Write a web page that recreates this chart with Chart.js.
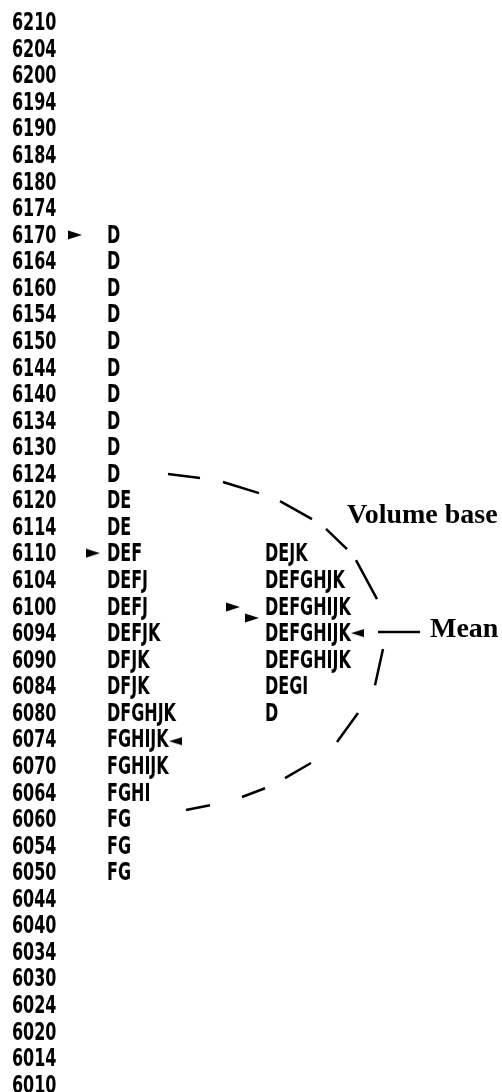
<!DOCTYPE html>
<html>
<head>
<meta charset="utf-8">
<script src="https://cdn.jsdelivr.net/npm/chart.js@4/dist/chart.umd.min.js"></script>
<style>
  html, body { margin: 0; padding: 0; background: #fff; }
  #wrap { width: 502px; height: 1092px; position: relative; }
</style>
</head>
<body>
<div id="wrap"><canvas id="profile"></canvas></div>
<script>
// price ladder, top to bottom
const prices = [6210, 6204, 6200, 6194, 6190, 6184, 6180, 6174, 6170, 6164, 6160,
  6154, 6150, 6144, 6140, 6134, 6130, 6124, 6120, 6114, 6110, 6104, 6100, 6094,
  6090, 6084, 6080, 6074, 6070, 6064, 6060, 6054, 6050, 6044, 6040, 6034, 6030,
  6024, 6020, 6014, 6010];

// time brackets traded at each price (left profile)
const leftPrices = [6170, 6164, 6160, 6154, 6150, 6144, 6140, 6134, 6130, 6124, 6120,
  6114, 6110, 6104, 6100, 6094, 6090, 6084, 6080, 6074, 6070, 6064, 6060, 6054, 6050];
const leftPeriods = ['D', 'D', 'D', 'D', 'D', 'D', 'D', 'D', 'D', 'D', 'DE',
  'DE', 'DEF', 'DEFJ', 'DEFJ', 'DEFJK', 'DFJK', 'DFJK', 'DFGHJK', 'FGHIJK', 'FGHIJK', 'FGHI', 'FG', 'FG', 'FG'];

// volume based profile (right)
const rightPrices = [6110, 6104, 6100, 6094, 6090, 6084, 6080];
const rightPeriods = ['DEJK', 'DEFGHJK', 'DEFGHIJK', 'DEFGHIJK', 'DEFGHIJK', 'DEGI', 'D'];

// arrow markers (x in chart units, y in ladder rows)
const rightArrowX = [75, 93, 233, 252];
const rightArrowRow = [7.94, 19.92, 21.95, 22.36];
const leftArrowX = [176, 358];
const leftArrowRow = [27.0, 22.93];

// dashed "volume base" arc, dash by dash
const arcX = [168, 200, null, 223, 259, null, 280, 312, null, 326, 347, null, 356, 377, null,
  383, 375, null, 358, 337, null, 311, 285, null, 265, 242, null, 210, 186];
const arcRow = [16.94, 17.09, null, 17.24, 17.66, null, 17.96, 18.64, null, 19.01, 19.77, null, 20.18, 21.65, null,
  23.53, 24.89, null, 25.94, 27.03, null, 27.82, 28.39, null, 28.77, 29.1, null, 29.41, 29.59];

const meanLineX = [378, 420];
const meanLineRow = [22.89, 22.89];

const noteText = ['Volume base', 'Mean'];
const noteX = [347, 430];
const noteRow = [18.79, 23.08];

const LEFT_COL = 107;
const RIGHT_COL = 265;
const SQUEEZE = 0.74;
const narrow = "'DejaVu Sans Condensed', 'DejaVu Sans', sans-serif";

function arrowCanvas(dir) {
  const c = document.createElement('canvas');
  c.width = 14; c.height = 10;
  const g = c.getContext('2d');
  g.fillStyle = '#000';
  g.beginPath();
  if (dir > 0) { g.moveTo(0, 0.5); g.lineTo(14, 5); g.lineTo(0, 9.5); }
  else { g.moveTo(13, 1); g.lineTo(0, 5); g.lineTo(13, 9); }
  g.closePath();
  g.fill();
  return c;
}

const rowOf = p => prices.indexOf(p);

const letterPoints = [
  ...leftPrices.map((p, i) => ({ x: LEFT_COL, y: rowOf(p), t: leftPeriods[i] })),
  ...rightPrices.map((p, i) => ({ x: RIGHT_COL, y: rowOf(p), t: rightPeriods[i] }))
];

// squeeze the y tick labels into the condensed look of the original
const squeezeTicks = {
  id: 'squeezeTicks',
  beforeDraw(chart) {
    const y = chart.scales.y;
    if (y._squeezed) return;
    const orig = y.drawLabels;
    y.drawLabels = function (area) {
      const ctx = this.ctx;
      const right = this.right;
      // label clip box is in the squeezed space, so widen it to match
      this.right = this.left + (right - this.left) / SQUEEZE;
      ctx.save();
      ctx.translate(this.left, 0);
      ctx.scale(SQUEEZE, 1);
      ctx.translate(-this.left, 0);
      orig.call(this, area);
      ctx.restore();
      this.right = right;
    };
    y._squeezed = true;
  }
};

const letterPlugin = {
  id: 'letters',
  afterDatasetsDraw(chart) {
    const { ctx } = chart;
    const xs = chart.scales.x, ys = chart.scales.y;
    ctx.save();
    ctx.fillStyle = '#000';
    ctx.font = "bold 24px " + narrow;
    ctx.textBaseline = 'middle';
    ctx.textAlign = 'left';
    chart.data.datasets[0].data.forEach(pt => {
      ctx.save();
      ctx.translate(xs.getPixelForValue(pt.x), ys.getPixelForValue(pt.y));
      ctx.scale(SQUEEZE, 1);
      ctx.fillText(pt.t, 0, 0);
      ctx.restore();
    });
    ctx.font = "bold 28px 'Liberation Serif', 'Times New Roman', serif";
    ctx.textBaseline = 'alphabetic';
    noteText.forEach((t, i) => {
      ctx.fillText(t, xs.getPixelForValue(noteX[i]), ys.getPixelForValue(noteRow[i]));
    });
    ctx.restore();
  }
};

new Chart(document.getElementById('profile'), {
  type: 'scatter',
  data: {
    datasets: [
      { data: letterPoints, pointRadius: 0 },
      {
        data: rightArrowX.map((x, i) => ({ x, y: rightArrowRow[i] })),
        pointStyle: arrowCanvas(1)
      },
      {
        data: leftArrowX.map((x, i) => ({ x, y: leftArrowRow[i] })),
        pointStyle: arrowCanvas(-1)
      },
      {
        type: 'line',
        data: arcX.map((x, i) => (x === null ? { x: null, y: null } : { x, y: arcRow[i] })),
        borderColor: '#000',
        borderWidth: 2.5,
        pointRadius: 0,
        spanGaps: false,
        tension: 0
      },
      {
        type: 'line',
        data: meanLineX.map((x, i) => ({ x, y: meanLineRow[i] })),
        borderColor: '#000',
        borderWidth: 2.5,
        pointRadius: 0
      }
    ]
  },
  options: {
    responsive: true,
    maintainAspectRatio: false,
    animation: false,
    layout: { autoPadding: false, padding: { left: 12, right: 0, top: 0, bottom: 0 } },
    plugins: { legend: { display: false }, tooltip: { enabled: false } },
    scales: {
      x: { type: 'linear', display: false, min: 68, max: 502 },
      y: {
        type: 'linear',
        reverse: true,
        min: -0.904,
        max: 40.207,
        grid: { display: false },
        border: { display: false },
        afterFit: scale => {
          scale.width = 56;
          scale.paddingTop = 0;
          scale.paddingBottom = 0;
        },
        afterBuildTicks: scale => { scale.ticks = prices.map((_, i) => ({ value: i })); },
        ticks: {
          autoSkip: false,
          crossAlign: 'far',
          padding: 0,
          color: '#000',
          font: { family: narrow, size: 24, weight: 'bold' },
          callback: v => prices[v]
        }
      }
    }
  },
  plugins: [squeezeTicks, letterPlugin]
});
</script>
</body>
</html>
